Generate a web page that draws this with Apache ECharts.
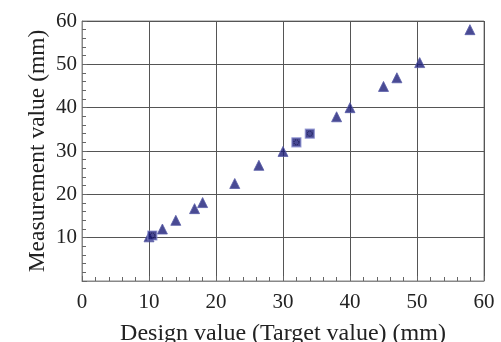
<!DOCTYPE html>
<html>
<head>
<meta charset="utf-8">
<script src="https://cdn.jsdelivr.net/npm/echarts@6/dist/echarts.min.js"></script>
<style>
  html, body { margin: 0; padding: 0; background: #fff; }
  #chart { width: 501px; height: 342px; }
</style>
</head>
<body>
<div id="chart"></div>
<script>
// triangle markers (design value, measured value)
const triX = [10.0, 12.0, 14.0, 16.8, 18.0, 22.8, 26.4, 30.0, 38.0, 40.0, 45.0, 47.0, 50.4, 57.9];
const triY = [10.2, 12.0, 14.0, 16.7, 18.1, 22.5, 26.7, 29.9, 37.9, 40.0, 44.9, 46.9, 50.4, 58.0];
// square markers
const sqX = [10.5, 32.0, 34.0];
const sqY = [10.5, 32.0, 34.0];

const xTicks = [0, 10, 20, 30, 40, 50, 60];
const yTicks = [10, 20, 30, 40, 50, 60];

const toPairs = (xs, ys) => xs.map((x, i) => [x, ys[i]]);

const font = 'Liberation Serif';
const myChart = echarts.init(document.getElementById('chart'));

const axisCommon = {
    min: 0,
    max: 60,
    interval: 10,
    axisLine: { show: true, lineStyle: { color: '#888', width: 1 } },
    axisTick: { show: true, inside: true, length: 5, lineStyle: { color: '#666' } },
    minorTick: { show: true, splitNumber: 5, length: 4, lineStyle: { color: '#666' } },
    splitLine: { show: true, lineStyle: { color: '#555', width: 1 } }
};

const option = {
    backgroundColor: '#fff',
    animation: false,
    grid: {
        left: 82, right: 17, top: 21, bottom: 61,
        outerBoundsMode: 'none',
        containLabel: false,
        show: true, borderColor: '#888', borderWidth: 1
    },
    xAxis: Object.assign({}, axisCommon, {
        type: 'value',
        name: 'Design value (Target value) (mm)',
        nameLocation: 'middle',
        nameGap: 41,
        nameMoveOverlap: false,
        nameTextStyle: { fontFamily: font, fontSize: 24, color: '#222' },
        axisLabel: {
            fontFamily: font, fontSize: 21, color: '#222', margin: 11,
            formatter: v => xTicks.includes(v) ? String(v) : ''
        }
    }),
    yAxis: Object.assign({}, axisCommon, {
        type: 'value',
        name: 'Measurement value (mm)',
        nameLocation: 'middle',
        nameGap: 32,
        nameMoveOverlap: false,
        nameTextStyle: { fontFamily: font, fontSize: 23.5, color: '#222' },
        axisLabel: {
            fontFamily: font, fontSize: 21, color: '#222', margin: 5,
            formatter: v => yTicks.includes(v) ? String(v) : ''
        }
    }),
    series: [
        {
            type: 'scatter',
            symbol: 'triangle',
            symbolSize: 10,
            data: toPairs(triX, triY),
            itemStyle: { color: '#1c1d78', borderColor: '#5a5ea8', borderWidth: 1 }
        },
        {
            type: 'scatter',
            symbol: 'rect',
            symbolSize: 9,
            data: toPairs(sqX, sqY),
            itemStyle: { color: '#1c1d78', borderColor: '#8a8ed0', borderWidth: 1.2 }
        },
        {
            // dotted ring drawn inside the squares
            type: 'scatter',
            symbol: 'circle',
            symbolSize: 5,
            silent: true,
            data: toPairs(sqX, sqY),
            itemStyle: { color: 'transparent', borderColor: '#0b0c40', borderWidth: 1, borderType: 'dotted' }
        }
    ]
};

myChart.setOption(option);
</script>
</body>
</html>
